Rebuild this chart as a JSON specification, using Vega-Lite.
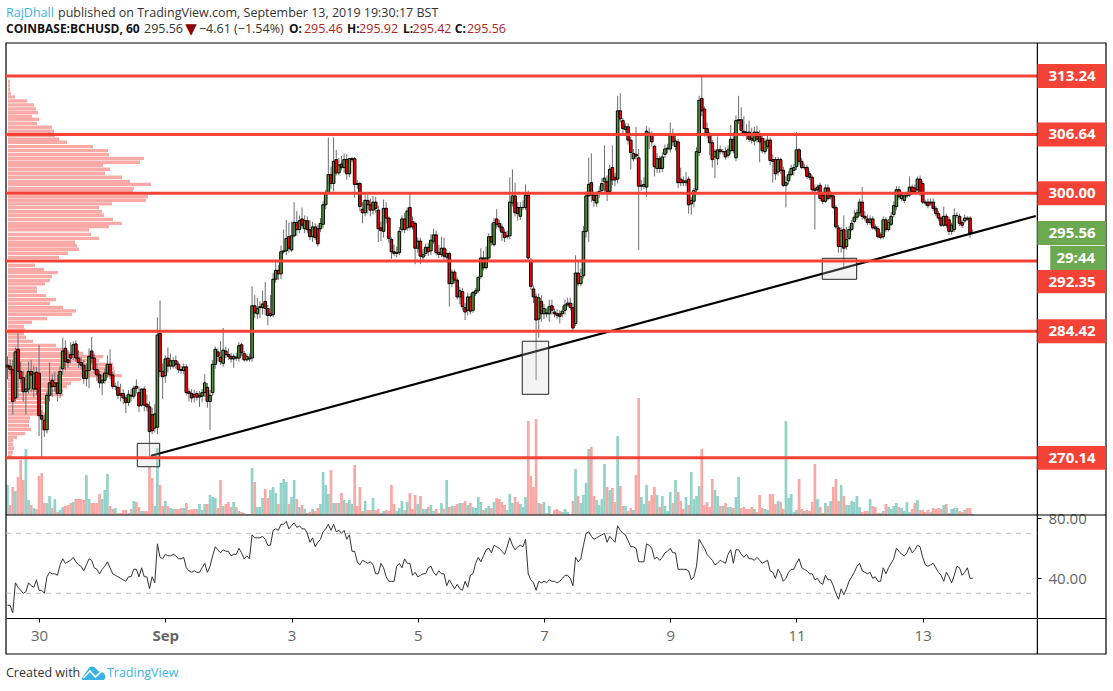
{"$schema":"https://vega.github.io/schema/vega-lite/v6.json","width":1113,"height":691,"autosize":{"type":"none"},"padding":0,"background":"white","config":{"view":{"stroke":null},"font":"Open Sans"},
"datasets":{
"bars":[
{"h":12,"o":280.4,"c":280.6,"hi":281.6,"lo":279,"v":30,"r":22},{"h":13,"o":280.5,"c":280.1,"hi":281.2,"lo":279.6,"v":10,"r":22},{"h":14,"o":280.1,"c":276.5,"hi":281.2,"lo":275,"v":28,"r":17},{"h":15,"o":276.9,"c":282.1,"hi":282.6,"lo":276.5,"v":24,"r":37},{"h":16,"o":282.4,"c":279.9,"hi":284.2,"lo":276.9,"v":38,"r":34},{"h":17,"o":279.9,"c":279.1,"hi":281,"lo":278.6,"v":55,"r":32},{"h":18,"o":279.2,"c":277.6,"hi":280,"lo":276.5,"v":35,"r":30},{"h":19,"o":277.6,"c":277.9,"hi":279.5,"lo":275,"v":66,"r":31},{"h":20,"o":277.9,"c":279.9,"hi":281,"lo":277.4,"v":15,"r":37},{"h":21,"o":279.9,"c":279.5,"hi":281.2,"lo":277.5,"v":10,"r":35},{"h":22,"o":277.9,"c":279.7,"hi":280.5,"lo":277,"v":7,"r":34},{"h":23,"o":279.8,"c":277.9,"hi":280.4,"lo":277.2,"v":6,"r":39},{"h":24,"o":279.7,"c":274.9,"hi":282.9,"lo":272.6,"v":39,"r":32},{"h":25,"o":274.9,"c":274.5,"hi":275.5,"lo":270.2,"v":42,"r":32},{"h":26,"o":274.4,"c":273.3,"hi":275,"lo":272.5,"v":12,"r":30},{"h":27,"o":273.3,"c":277.2,"hi":277.6,"lo":272.9,"v":12,"r":41},{"h":28,"o":277.2,"c":278.6,"hi":280.9,"lo":276.5,"v":19,"r":44},{"h":29,"o":278.9,"c":278.2,"hi":279.6,"lo":277,"v":7,"r":43},{"h":30,"o":278.2,"c":278.6,"hi":279.8,"lo":277.6,"v":16,"r":43},{"h":31,"o":278.6,"c":277.4,"hi":279.5,"lo":276.5,"v":3,"r":42},{"h":32,"o":277.4,"c":279.9,"hi":280.5,"lo":276.9,"v":5,"r":49},{"h":33,"o":280.2,"c":282.2,"hi":283.7,"lo":279.5,"v":8,"r":53},{"h":34,"o":282.5,"c":281,"hi":283.4,"lo":280,"v":9,"r":50},{"h":35,"o":281.2,"c":280.9,"hi":282.3,"lo":280.3,"v":10,"r":51},{"h":36,"o":281.8,"c":281.4,"hi":283.2,"lo":280.8,"v":12,"r":52},{"h":37,"o":281.8,"c":282.9,"hi":283.3,"lo":281.2,"v":13,"r":54},{"h":38,"o":283,"c":281.4,"hi":283.4,"lo":281,"v":16,"r":51},{"h":39,"o":281.4,"c":280.9,"hi":282.3,"lo":280.3,"v":16,"r":49},{"h":40,"o":280.9,"c":280.6,"hi":281.5,"lo":280.1,"v":16,"r":48},{"h":41,"o":280.6,"c":279.1,"hi":281.2,"lo":278.5,"v":15,"r":45},{"h":42,"o":279.1,"c":280,"hi":280.8,"lo":278.2,"v":40,"r":49},{"h":43,"o":280,"c":281.6,"hi":282.5,"lo":278,"v":16,"r":53},{"h":44,"o":282.2,"c":281.4,"hi":283.8,"lo":280.8,"v":12,"r":52},{"h":45,"o":281.4,"c":280.1,"hi":281.9,"lo":279.6,"v":12,"r":47},{"h":46,"o":280.1,"c":279.5,"hi":280.8,"lo":278.8,"v":12,"r":46},{"h":47,"o":279.5,"c":278.6,"hi":280,"lo":278,"v":21,"r":43},{"h":48,"o":278.6,"c":278.9,"hi":279.6,"lo":277.2,"v":16,"r":46},{"h":49,"o":278.9,"c":279.7,"hi":280.2,"lo":278.5,"v":25,"r":48},{"h":50,"o":279.7,"c":280.7,"hi":281.7,"lo":279.2,"v":41,"r":51},{"h":51,"o":280.7,"c":279.5,"hi":282.4,"lo":279,"v":9,"r":47},{"h":52,"o":279.5,"c":278.2,"hi":279.9,"lo":277.9,"v":6,"r":43},{"h":53,"o":278.2,"c":278.2,"hi":278.6,"lo":277.8,"v":7,"r":42},{"h":54,"o":278.1,"c":277.2,"hi":278.8,"lo":276.8,"v":2,"r":41},{"h":55,"o":277.4,"c":277.2,"hi":278.5,"lo":276.5,"v":2,"r":40},{"h":56,"o":277.4,"c":276.9,"hi":277.9,"lo":276.2,"v":5,"r":39},{"h":57,"o":276.9,"c":276.4,"hi":277.2,"lo":275.2,"v":5,"r":38},{"h":58,"o":276.4,"c":277.3,"hi":277.8,"lo":276,"v":2,"r":41},{"h":59,"o":277.2,"c":277.1,"hi":277.9,"lo":276.5,"v":6,"r":41},{"h":60,"o":277.1,"c":278,"hi":278.3,"lo":276.8,"v":14,"r":46},{"h":61,"o":278.2,"c":278,"hi":279,"lo":277.4,"v":13,"r":46},{"h":62,"o":277.5,"c":276,"hi":278.2,"lo":275.3,"v":8,"r":41},{"h":63,"o":276.1,"c":277.9,"hi":278,"lo":275.9,"v":4,"r":47},{"h":64,"o":277.9,"c":276.1,"hi":278.2,"lo":275.4,"v":4,"r":41},{"h":65,"o":276.2,"c":275.9,"hi":277.3,"lo":275.4,"v":4,"r":41},{"h":66,"o":275.9,"c":273.1,"hi":276.5,"lo":270.3,"v":48,"r":33},{"h":67,"o":275,"c":273.2,"hi":275.8,"lo":272.8,"v":37,"r":41},{"h":68,"o":273.5,"c":275.1,"hi":276.2,"lo":273,"v":9,"r":37},{"h":69,"o":273.6,"c":284,"hi":286,"lo":272.8,"v":67,"r":63},{"h":70,"o":284.2,"c":279.9,"hi":287.9,"lo":279.3,"v":30,"r":54},{"h":71,"o":279.9,"c":279.3,"hi":280.8,"lo":276.8,"v":9,"r":53},
{"h":72,"o":279.4,"c":281.3,"hi":281.7,"lo":278.6,"v":14,"r":56},{"h":73,"o":281.4,"c":280.5,"hi":282.6,"lo":279.8,"v":9,"r":55},{"h":74,"o":280.5,"c":281.1,"hi":281.9,"lo":280.1,"v":7,"r":55},{"h":75,"o":280.5,"c":281.1,"hi":281.5,"lo":280.2,"v":6,"r":56},{"h":76,"o":281.1,"c":280.7,"hi":281.7,"lo":280.2,"v":6,"r":55},{"h":77,"o":280.7,"c":280.1,"hi":281,"lo":279.7,"v":6,"r":53},{"h":78,"o":280.1,"c":280,"hi":280.5,"lo":279.6,"v":7,"r":53},{"h":79,"o":280,"c":280.4,"hi":280.8,"lo":279.6,"v":7,"r":54},{"h":80,"o":280.4,"c":277.5,"hi":280.7,"lo":277.2,"v":12,"r":47},{"h":81,"o":277.6,"c":277.4,"hi":278,"lo":276.5,"v":5,"r":45},{"h":82,"o":277.4,"c":276.9,"hi":277.9,"lo":276.4,"v":6,"r":44},{"h":83,"o":277.3,"c":277,"hi":277.8,"lo":276.4,"v":6,"r":45},{"h":84,"o":277.4,"c":277,"hi":277.7,"lo":276.6,"v":6,"r":44},{"h":85,"o":277,"c":277.2,"hi":277.7,"lo":275.9,"v":11,"r":44},{"h":86,"o":277.1,"c":277.5,"hi":277.9,"lo":276.4,"v":5,"r":47},{"h":87,"o":277.5,"c":278.6,"hi":279.6,"lo":277,"v":11,"r":50},{"h":88,"o":278.1,"c":276.5,"hi":278.6,"lo":275.8,"v":11,"r":44},{"h":89,"o":276.5,"c":277.2,"hi":277.8,"lo":273.3,"v":20,"r":48},{"h":90,"o":277.5,"c":280.7,"hi":281.2,"lo":277.1,"v":18,"r":55},{"h":91,"o":280.7,"c":282.4,"hi":282.7,"lo":280.2,"v":17,"r":61},{"h":92,"o":282.1,"c":281.6,"hi":282.5,"lo":281,"v":7,"r":59},{"h":93,"o":281.5,"c":281,"hi":283.3,"lo":280.6,"v":35,"r":57},{"h":94,"o":280.8,"c":282.3,"hi":284.8,"lo":280.4,"v":9,"r":59},{"h":95,"o":282.2,"c":281.8,"hi":282.7,"lo":281.4,"v":11,"r":58},{"h":96,"o":281.8,"c":281.6,"hi":282.5,"lo":281.2,"v":13,"r":58},{"h":97,"o":281.6,"c":281.3,"hi":282,"lo":280.9,"v":8,"r":55},{"h":98,"o":281.3,"c":281.6,"hi":281.9,"lo":280.3,"v":13,"r":56},{"h":99,"o":281.5,"c":281.4,"hi":282,"lo":281.1,"v":8,"r":56},{"h":100,"o":281.4,"c":282.8,"hi":283.2,"lo":281,"v":4,"r":60},{"h":101,"o":282.9,"c":282,"hi":283.1,"lo":281.6,"v":3,"r":57},{"h":102,"o":281.9,"c":281.2,"hi":282.2,"lo":281,"v":2,"r":53},{"h":103,"o":281.2,"c":281.6,"hi":281.9,"lo":281,"v":1,"r":55},{"h":104,"o":281.3,"c":281.4,"hi":281.9,"lo":281,"v":1,"r":53},{"h":105,"o":281.4,"c":287.3,"hi":289.5,"lo":281,"v":47,"r":69},{"h":106,"o":287.3,"c":286.5,"hi":288.5,"lo":285.9,"v":33,"r":67},{"h":107,"o":286.4,"c":287,"hi":288.2,"lo":285.8,"v":8,"r":67},{"h":108,"o":287.1,"c":287.2,"hi":287.8,"lo":285.9,"v":8,"r":67},{"h":109,"o":287.1,"c":287.5,"hi":289,"lo":286.3,"v":17,"r":68},{"h":110,"o":287.8,"c":287,"hi":290,"lo":286.2,"v":26,"r":66},{"h":111,"o":287,"c":286.2,"hi":287.4,"lo":285.1,"v":17,"r":62},{"h":112,"o":286.2,"c":286.4,"hi":288.5,"lo":286,"v":25,"r":62},{"h":113,"o":286.3,"c":290.3,"hi":291,"lo":286,"v":28,"r":72},{"h":114,"o":290.3,"c":291.3,"hi":292.5,"lo":289.9,"v":22,"r":73},{"h":115,"o":291.3,"c":290.9,"hi":291.9,"lo":290.2,"v":11,"r":72},{"h":116,"o":290.9,"c":293.4,"hi":294.1,"lo":290.3,"v":32,"r":76},{"h":117,"o":293.4,"c":293.5,"hi":295.9,"lo":293.2,"v":36,"r":76},{"h":118,"o":293.5,"c":294.9,"hi":297,"lo":293,"v":33,"r":78},{"h":119,"o":295.1,"c":293.8,"hi":296.7,"lo":293.3,"v":11,"r":73},{"h":120,"o":293.6,"c":295.2,"hi":296.8,"lo":293.4,"v":18,"r":75},
{"h":121,"o":295.2,"c":296.7,"hi":299,"lo":295,"v":35,"r":77},{"h":122,"o":296.7,"c":295.9,"hi":298,"lo":295.2,"v":16,"r":74},{"h":123,"o":295.9,"c":296.9,"hi":297.5,"lo":295.5,"v":8,"r":75},{"h":124,"o":297.1,"c":296.4,"hi":298.4,"lo":296,"v":10,"r":73},{"h":125,"o":296,"c":296.9,"hi":297.5,"lo":295.5,"v":6,"r":73},{"h":126,"o":296.9,"c":295.9,"hi":297.4,"lo":295.5,"v":2,"r":70},{"h":127,"o":295.9,"c":295.1,"hi":297,"lo":294.7,"v":3,"r":64},{"h":128,"o":295.1,"c":296.2,"hi":296.8,"lo":294.5,"v":6,"r":67},{"h":129,"o":296.2,"c":295,"hi":296.6,"lo":294.7,"v":4,"r":61},{"h":130,"o":296,"c":294.3,"hi":296.4,"lo":294,"v":7,"r":64},{"h":131,"o":296,"c":296.6,"hi":297.2,"lo":295.6,"v":11,"r":66},{"h":132,"o":296.5,"c":298.7,"hi":299.1,"lo":296.1,"v":43,"r":71},{"h":133,"o":298.7,"c":300,"hi":300.4,"lo":298.2,"v":30,"r":73},{"h":134,"o":300.1,"c":302.1,"hi":306.3,"lo":299.9,"v":21,"r":76},{"h":135,"o":302.1,"c":301.1,"hi":303,"lo":300.5,"v":45,"r":72},{"h":136,"o":301.1,"c":303.6,"hi":306.3,"lo":300.2,"v":12,"r":76},{"h":137,"o":303.8,"c":302.3,"hi":304.9,"lo":302,"v":12,"r":71},{"h":138,"o":302.3,"c":303.2,"hi":304,"lo":302,"v":12,"r":72},{"h":139,"o":303.3,"c":302.9,"hi":304.2,"lo":302.6,"v":22,"r":70},{"h":140,"o":302.9,"c":303.8,"hi":304.5,"lo":302.3,"v":15,"r":72},{"h":141,"o":303.8,"c":302.2,"hi":304.4,"lo":301.5,"v":12,"r":66},{"h":142,"o":302.2,"c":303.9,"hi":304,"lo":301.8,"v":15,"r":69},{"h":143,"o":303.8,"c":303.9,"hi":304.1,"lo":303.5,"v":11,"r":58},
{"h":144,"o":303.9,"c":301,"hi":304.1,"lo":299.5,"v":50,"r":58},{"h":145,"o":301.1,"c":301,"hi":301.5,"lo":300.5,"v":9,"r":51},{"h":146,"o":301.1,"c":298.5,"hi":301.3,"lo":298,"v":28,"r":49},{"h":147,"o":298.2,"c":297.8,"hi":299,"lo":296.6,"v":4,"r":52},{"h":148,"o":297.8,"c":299.2,"hi":300,"lo":297.4,"v":14,"r":51},{"h":149,"o":299.2,"c":298.7,"hi":299.8,"lo":297.7,"v":5,"r":50},{"h":150,"o":298.7,"c":298.1,"hi":299.4,"lo":297.4,"v":5,"r":51},{"h":151,"o":298.1,"c":299,"hi":299.7,"lo":297.6,"v":17,"r":49},{"h":152,"o":299,"c":298.3,"hi":299.6,"lo":297.8,"v":5,"r":43},{"h":153,"o":298.1,"c":296,"hi":298.6,"lo":294.5,"v":6,"r":43},{"h":154,"o":296.1,"c":295.8,"hi":296.8,"lo":294.6,"v":2,"r":50},{"h":155,"o":295.7,"c":298.3,"hi":299.3,"lo":295,"v":4,"r":47},{"h":156,"o":298.3,"c":297.2,"hi":299,"lo":296.6,"v":5,"r":41},{"h":157,"o":297.2,"c":294.9,"hi":297.4,"lo":294.4,"v":4,"r":38},{"h":158,"o":294.8,"c":293.4,"hi":295,"lo":292.6,"v":30,"r":38},{"h":159,"o":293.4,"c":293.2,"hi":294.2,"lo":292.9,"v":11,"r":38},{"h":160,"o":293.2,"c":293.3,"hi":294,"lo":292.8,"v":4,"r":48},{"h":161,"o":293.3,"c":295.7,"hi":296.2,"lo":293,"v":7,"r":50},{"h":162,"o":295.9,"c":297.1,"hi":297.5,"lo":295.6,"v":14,"r":47},{"h":163,"o":297.1,"c":295.9,"hi":297.8,"lo":295.5,"v":5,"r":53},{"h":164,"o":296.1,"c":298,"hi":298.4,"lo":295.8,"v":13,"r":50},{"h":165,"o":298.4,"c":296.2,"hi":300,"lo":295.9,"v":22,"r":50},{"h":166,"o":296.8,"c":296.2,"hi":297.4,"lo":295.9,"v":6,"r":42},{"h":167,"o":296.6,"c":293.8,"hi":296.8,"lo":292,"v":20,"r":44},{"h":168,"o":293.8,"c":294.6,"hi":295,"lo":293.3,"v":11,"r":41},{"h":169,"o":294.6,"c":292.9,"hi":295,"lo":292,"v":19,"r":42},{"h":170,"o":292.8,"c":293.1,"hi":293.7,"lo":292.3,"v":6,"r":43},{"h":171,"o":293.2,"c":293.9,"hi":294.3,"lo":292.9,"v":6,"r":43},{"h":172,"o":293.9,"c":293.4,"hi":294.4,"lo":292.9,"v":8,"r":47},{"h":173,"o":293.5,"c":294.7,"hi":295.4,"lo":293,"v":10,"r":48},{"h":174,"o":294.6,"c":295.3,"hi":296,"lo":294.3,"v":4,"r":44},{"h":175,"o":295.3,"c":293.3,"hi":295.8,"lo":293,"v":6,"r":42},{"h":176,"o":293.3,"c":293.1,"hi":294.2,"lo":292.7,"v":2,"r":45},{"h":177,"o":293.1,"c":293.8,"hi":295.1,"lo":292.8,"v":12,"r":43},{"h":178,"o":293.8,"c":292.9,"hi":295,"lo":292.5,"v":6,"r":43},{"h":179,"o":292.8,"c":293.2,"hi":293.7,"lo":292.2,"v":35,"r":35},{"h":180,"o":293.2,"c":289.8,"hi":293.4,"lo":287.2,"v":8,"r":39},{"h":181,"o":289.8,"c":291.1,"hi":291.4,"lo":289.4,"v":9,"r":36},{"h":182,"o":291.1,"c":290.2,"hi":291.4,"lo":289.8,"v":9,"r":33},{"h":183,"o":290.2,"c":288.3,"hi":290.5,"lo":288,"v":11,"r":36},{"h":184,"o":288.3,"c":289,"hi":289.4,"lo":287.5,"v":12,"r":33},{"h":185,"o":288.9,"c":287.2,"hi":289.3,"lo":286.8,"v":12,"r":32},{"h":186,"o":287.1,"c":286.6,"hi":287.6,"lo":285.7,"v":14,"r":38},{"h":187,"o":286.8,"c":288.3,"hi":288.8,"lo":286.2,"v":10,"r":34},{"h":188,"o":288.3,"c":286.7,"hi":288.7,"lo":286.3,"v":12,"r":42},{"h":189,"o":286.8,"c":288.8,"hi":289,"lo":286.5,"v":8,"r":43},{"h":190,"o":288.7,"c":289,"hi":289.3,"lo":288.4,"v":7,"r":50},{"h":191,"o":289,"c":290.5,"hi":290.7,"lo":288.7,"v":18,"r":54},{"h":192,"o":290.6,"c":292.7,"hi":293.8,"lo":290.3,"v":13,"r":51},{"h":193,"o":292.7,"c":291.6,"hi":293.5,"lo":291.3,"v":5,"r":55},{"h":194,"o":291.6,"c":292.7,"hi":294,"lo":291.4,"v":7,"r":59},{"h":195,"o":292.7,"c":295.1,"hi":295.5,"lo":292.4,"v":9,"r":60},{"h":196,"o":295.1,"c":294.5,"hi":296.6,"lo":294.1,"v":7,"r":57},{"h":197,"o":294.2,"c":296.7,"hi":297.2,"lo":294,"v":13,"r":62},{"h":198,"o":297.1,"c":296.5,"hi":298.2,"lo":296,"v":17,"r":61},{"h":199,"o":296.6,"c":296.2,"hi":297,"lo":295.8,"v":16,"r":60},{"h":200,"o":296.2,"c":295.6,"hi":296.6,"lo":294.6,"v":13,"r":58},{"h":201,"o":295.6,"c":295,"hi":296,"lo":294.5,"v":10,"r":56},{"h":202,"o":295.1,"c":295.2,"hi":295.8,"lo":294.8,"v":5,"r":61},{"h":203,"o":295.2,"c":299,"hi":301.8,"lo":294.8,"v":21,"r":67},{"h":204,"o":298.9,"c":299.7,"hi":302.7,"lo":298.5,"v":12,"r":62},{"h":205,"o":299.7,"c":297.8,"hi":301.2,"lo":297.4,"v":18,"r":59},{"h":206,"o":298.4,"c":297.7,"hi":299,"lo":296.9,"v":13,"r":61},{"h":207,"o":297.4,"c":298.4,"hi":299,"lo":297,"v":11,"r":62},{"h":208,"o":298.4,"c":298.4,"hi":299.2,"lo":298.1,"v":8,"r":61},{"h":209,"o":298.4,"c":299.8,"hi":301,"lo":298.1,"v":18,"r":66},{"h":210,"o":299.8,"c":292.7,"hi":300.3,"lo":292.4,"v":94,"r":43},{"h":211,"o":292.4,"c":289.5,"hi":292.7,"lo":289.1,"v":39,"r":39},{"h":212,"o":289.2,"c":288.3,"hi":289.6,"lo":287.6,"v":28,"r":37},{"h":213,"o":288.3,"c":285.7,"hi":288.7,"lo":278.9,"v":96,"r":32},{"h":214,"o":285.8,"c":288.2,"hi":288.7,"lo":283.7,"v":12,"r":38},{"h":215,"o":287.8,"c":286.4,"hi":288.5,"lo":285.5,"v":11,"r":37},{"h":216,"o":286.4,"c":287,"hi":287.5,"lo":285.8,"v":13,"r":38},{"h":217,"o":286.5,"c":286.4,"hi":287,"lo":286,"v":2,"r":37},{"h":218,"o":286.4,"c":287.2,"hi":288,"lo":285.5,"v":9,"r":39},{"h":219,"o":287.3,"c":286.8,"hi":288,"lo":286.3,"v":1,"r":38},{"h":220,"o":286.6,"c":286.4,"hi":287,"lo":286,"v":5,"r":38},{"h":221,"o":286.4,"c":286.2,"hi":286.9,"lo":285.8,"v":6,"r":37},{"h":222,"o":286.4,"c":286.1,"hi":286.8,"lo":285.3,"v":4,"r":38},{"h":223,"o":286.4,"c":286.7,"hi":287.3,"lo":286,"v":3,"r":40},{"h":224,"o":286.8,"c":287.4,"hi":288,"lo":286.3,"v":6,"r":42},{"h":225,"o":287.4,"c":287.6,"hi":288.2,"lo":287.2,"v":3,"r":42},{"h":226,"o":287.6,"c":287.1,"hi":288.2,"lo":286.8,"v":1,"r":40},{"h":227,"o":287.1,"c":284.8,"hi":287.6,"lo":284.4,"v":14,"r":35},{"h":228,"o":285.3,"c":291,"hi":293,"lo":285,"v":46,"r":54},{"h":229,"o":291,"c":289.8,"hi":292.3,"lo":289.5,"v":19,"r":51},{"h":230,"o":289.8,"c":290.6,"hi":291.5,"lo":289.5,"v":12,"r":53},{"h":231,"o":290.7,"c":295.7,"hi":296.3,"lo":290.4,"v":20,"r":62},
{"h":232,"o":295.7,"c":299.7,"hi":300.2,"lo":295,"v":32,"r":70},{"h":233,"o":299.7,"c":301,"hi":304,"lo":294.5,"v":66,"r":71},{"h":234,"o":301.2,"c":299.8,"hi":304.5,"lo":299,"v":68,"r":68},{"h":235,"o":299.8,"c":299.2,"hi":300.1,"lo":298.5,"v":19,"r":66},{"h":236,"o":298.9,"c":299.8,"hi":300.2,"lo":298.5,"v":15,"r":67},{"h":237,"o":300,"c":300.2,"hi":300.8,"lo":299.5,"v":10,"r":68},{"h":238,"o":300.3,"c":301.1,"hi":301.7,"lo":299.8,"v":16,"r":69},{"h":239,"o":301.3,"c":301.7,"hi":305.4,"lo":300.2,"v":51,"r":70},{"h":240,"o":301.3,"c":300.2,"hi":302,"lo":299.1,"v":28,"r":64},{"h":241,"o":300.2,"c":302.7,"hi":303.2,"lo":299.8,"v":25,"r":68},{"h":242,"o":302.9,"c":301.5,"hi":305.4,"lo":300.9,"v":27,"r":66},{"h":243,"o":301.8,"c":301.5,"hi":302.3,"lo":300.8,"v":13,"r":64},{"h":244,"o":301.6,"c":309.3,"hi":311,"lo":301.1,"v":79,"r":75},{"h":245,"o":309.3,"c":308.4,"hi":311.3,"lo":308,"v":29,"r":72},{"h":246,"o":308.2,"c":307.3,"hi":308.5,"lo":306.8,"v":9,"r":70},{"h":247,"o":307.2,"c":307.5,"hi":307.9,"lo":306.7,"v":9,"r":69},{"h":248,"o":307.5,"c":306,"hi":307.9,"lo":305.5,"v":4,"r":65},{"h":249,"o":306,"c":304.6,"hi":306.4,"lo":302.7,"v":7,"r":61},{"h":250,"o":303.9,"c":304.5,"hi":305,"lo":303.6,"v":5,"r":61},{"h":251,"o":304.4,"c":304.2,"hi":307.5,"lo":303.8,"v":40,"r":60},{"h":252,"o":304,"c":300.8,"hi":305,"lo":293.6,"v":117,"r":51},{"h":253,"o":300.8,"c":300.9,"hi":301.5,"lo":300.3,"v":18,"r":51},{"h":254,"o":300.8,"c":301,"hi":301.8,"lo":300.5,"v":11,"r":51},{"h":255,"o":300.7,"c":307,"hi":307.6,"lo":299.6,"v":30,"r":63},{"h":256,"o":306.8,"c":306.5,"hi":307.4,"lo":305,"v":14,"r":62},{"h":257,"o":306.6,"c":305.8,"hi":307,"lo":305.3,"v":20,"r":60},{"h":258,"o":305.3,"c":303,"hi":305.5,"lo":301.9,"v":28,"r":53},{"h":259,"o":302.8,"c":303.9,"hi":304.5,"lo":302.3,"v":20,"r":54},{"h":260,"o":303.9,"c":302.8,"hi":304.2,"lo":302.3,"v":8,"r":52},{"h":261,"o":302.8,"c":304.1,"hi":304.6,"lo":302.4,"v":19,"r":54},{"h":262,"o":304.4,"c":305,"hi":305.5,"lo":304,"v":9,"r":57},{"h":263,"o":305,"c":305.1,"hi":305.6,"lo":304.5,"v":4,"r":58},{"h":264,"o":305,"c":306.6,"hi":308,"lo":304.6,"v":23,"r":60},{"h":265,"o":306.6,"c":305.8,"hi":307.3,"lo":305.3,"v":12,"r":57},{"h":266,"o":305.3,"c":305.9,"hi":306.7,"lo":304.8,"v":35,"r":57},{"h":267,"o":305.8,"c":301.2,"hi":306.1,"lo":300.6,"v":23,"r":46},{"h":268,"o":301.6,"c":301.2,"hi":302.9,"lo":300.8,"v":14,"r":46},{"h":269,"o":301.4,"c":301.2,"hi":301.9,"lo":300.8,"v":6,"r":46},{"h":270,"o":301.2,"c":301.4,"hi":302.4,"lo":300.8,"v":18,"r":46},{"h":271,"o":301.6,"c":298.7,"hi":301.9,"lo":297.7,"v":10,"r":45},{"h":272,"o":298.8,"c":299.2,"hi":299.6,"lo":297.6,"v":43,"r":39},{"h":273,"o":299.1,"c":300.3,"hi":300.6,"lo":298.4,"v":16,"r":41},{"h":274,"o":300.4,"c":304.7,"hi":305.2,"lo":300.1,"v":19,"r":48},{"h":275,"o":304.6,"c":310.5,"hi":311,"lo":304.2,"v":29,"r":66},{"h":276,"o":310.7,"c":309.3,"hi":313.2,"lo":308.7,"v":66,"r":63},{"h":277,"o":309.5,"c":307.3,"hi":309.8,"lo":306.4,"v":10,"r":60},{"h":278,"o":307.3,"c":306.8,"hi":308,"lo":306.2,"v":13,"r":56},{"h":279,"o":306.6,"c":305.7,"hi":306.9,"lo":304.3,"v":8,"r":54},{"h":280,"o":305.7,"c":303.8,"hi":306,"lo":302.9,"v":36,"r":52},{"h":281,"o":304.1,"c":304.7,"hi":305,"lo":301.7,"v":25,"r":49},{"h":282,"o":303.9,"c":304.9,"hi":306.4,"lo":303.2,"v":19,"r":50},{"h":283,"o":304.9,"c":304.7,"hi":305.4,"lo":304.4,"v":9,"r":52},{"h":284,"o":304.7,"c":304.7,"hi":305,"lo":304.4,"v":9,"r":51},{"h":285,"o":304.7,"c":304.1,"hi":305.2,"lo":303.8,"v":12,"r":50},{"h":286,"o":304.3,"c":304.9,"hi":305.4,"lo":304,"v":8,"r":56},{"h":287,"o":304.8,"c":306.1,"hi":307.7,"lo":304.4,"v":8,"r":59},{"h":288,"o":306.1,"c":304.8,"hi":306.9,"lo":304.5,"v":7,"r":50},{"h":289,"o":304,"c":308.2,"hi":308.8,"lo":303.6,"v":18,"r":59},{"h":290,"o":308.2,"c":308.3,"hi":311,"lo":307.8,"v":38,"r":59},{"h":291,"o":308.3,"c":307.1,"hi":309.7,"lo":306.8,"v":7,"r":56},{"h":292,"o":307,"c":306.8,"hi":308.7,"lo":306.4,"v":8,"r":54},{"h":293,"o":306.9,"c":306.8,"hi":307.8,"lo":306,"v":6,"r":56},{"h":294,"o":306.9,"c":306.1,"hi":308.2,"lo":305.8,"v":6,"r":53},{"h":295,"o":306.2,"c":306,"hi":307.4,"lo":305.6,"v":8,"r":53},{"h":296,"o":305.9,"c":306.9,"hi":307.5,"lo":305.4,"v":6,"r":52},{"h":297,"o":306.9,"c":306.1,"hi":307.6,"lo":305.7,"v":3,"r":54},{"h":298,"o":306.6,"c":305.8,"hi":307.1,"lo":303.5,"v":20,"r":52},{"h":299,"o":306.2,"c":304.8,"hi":306.6,"lo":304.5,"v":7,"r":50},{"h":300,"o":304.7,"c":305.8,"hi":306.2,"lo":304.4,"v":6,"r":51},
{"h":301,"o":305.3,"c":306,"hi":306.6,"lo":305,"v":5,"r":52},{"h":302,"o":306,"c":303.7,"hi":306.3,"lo":303.2,"v":21,"r":45},{"h":303,"o":303.8,"c":303.6,"hi":304.4,"lo":301.2,"v":21,"r":44},{"h":304,"o":303.8,"c":302.2,"hi":304.1,"lo":301.5,"v":11,"r":40},{"h":305,"o":302.4,"c":303.8,"hi":304.1,"lo":302,"v":14,"r":46},{"h":306,"o":303.8,"c":302.6,"hi":304,"lo":302.2,"v":13,"r":43},{"h":307,"o":302.6,"c":300.9,"hi":303,"lo":300.7,"v":6,"r":38},{"h":308,"o":300.9,"c":301.2,"hi":301.9,"lo":298.4,"v":94,"r":40},{"h":309,"o":301.4,"c":302.1,"hi":302.5,"lo":301,"v":17,"r":44},{"h":310,"o":302.1,"c":302.8,"hi":303.2,"lo":301.9,"v":21,"r":46},{"h":311,"o":302.6,"c":302.9,"hi":303.3,"lo":302,"v":3,"r":46},{"h":312,"o":303,"c":304.9,"hi":306.9,"lo":302.6,"v":5,"r":50},{"h":313,"o":304.9,"c":303.6,"hi":305.1,"lo":303.2,"v":36,"r":53},{"h":314,"o":303.6,"c":302.9,"hi":304,"lo":302.7,"v":6,"r":47},{"h":315,"o":302.9,"c":302.9,"hi":303.3,"lo":302.6,"v":4,"r":46},{"h":316,"o":302.9,"c":301.9,"hi":303.2,"lo":301.6,"v":5,"r":45},{"h":317,"o":302.2,"c":301.8,"hi":302.5,"lo":301.5,"v":4,"r":43},{"h":318,"o":301.8,"c":300.4,"hi":302,"lo":300,"v":13,"r":43},{"h":319,"o":300.5,"c":300.3,"hi":301,"lo":295.9,"v":51,"r":39},{"h":320,"o":300.4,"c":300.7,"hi":301,"lo":300,"v":16,"r":40},{"h":321,"o":300.9,"c":299.4,"hi":301.2,"lo":299.1,"v":8,"r":37},{"h":322,"o":299.8,"c":299.1,"hi":300.2,"lo":298.8,"v":2,"r":36},{"h":323,"o":299.1,"c":300.6,"hi":301,"lo":298.9,"v":12,"r":42},{"h":324,"o":300.6,"c":299.4,"hi":301,"lo":299.2,"v":9,"r":39},{"h":325,"o":299.6,"c":299.8,"hi":300.3,"lo":299.3,"v":14,"r":39},{"h":326,"o":299.7,"c":298.4,"hi":300,"lo":298.2,"v":28,"r":35},{"h":327,"o":298.4,"c":296.2,"hi":298.7,"lo":296,"v":36,"r":30},{"h":328,"o":296.1,"c":294,"hi":296.4,"lo":293.3,"v":14,"r":26},{"h":329,"o":294,"c":295.8,"hi":296.2,"lo":293.3,"v":30,"r":33},{"h":330,"o":295.9,"c":293.8,"hi":297.5,"lo":291.5,"v":19,"r":29},{"h":331,"o":294,"c":294.8,"hi":296.2,"lo":293.6,"v":10,"r":33},{"h":332,"o":294.9,"c":295.9,"hi":296.3,"lo":294.7,"v":10,"r":38},{"h":333,"o":295.9,"c":296.6,"hi":297,"lo":295.7,"v":14,"r":41},{"h":334,"o":296.8,"c":297.3,"hi":298.1,"lo":296.6,"v":13,"r":44},{"h":335,"o":297.3,"c":297.8,"hi":298.2,"lo":297,"v":19,"r":48},{"h":336,"o":297.8,"c":299,"hi":299.4,"lo":297.4,"v":8,"r":50},{"h":337,"o":299,"c":297.4,"hi":300.7,"lo":297,"v":3,"r":45},{"h":338,"o":297.4,"c":297.2,"hi":298,"lo":296.9,"v":4,"r":44},{"h":339,"o":297.1,"c":296.7,"hi":297.6,"lo":296.4,"v":4,"r":43},{"h":340,"o":296.7,"c":297.1,"hi":297.5,"lo":296.4,"v":16,"r":44},{"h":341,"o":297.1,"c":296.1,"hi":297.4,"lo":295.9,"v":9,"r":40},{"h":342,"o":296.2,"c":296,"hi":296.5,"lo":295.7,"v":8,"r":41},{"h":343,"o":296,"c":295.1,"hi":296.3,"lo":294.9,"v":2,"r":38},{"h":344,"o":295.3,"c":295,"hi":295.6,"lo":294.8,"v":2,"r":38},{"h":345,"o":295.1,"c":297,"hi":297.4,"lo":294.8,"v":4,"r":47},{"h":346,"o":297,"c":295.9,"hi":297.3,"lo":295.6,"v":11,"r":43},{"h":347,"o":295.9,"c":296.7,"hi":297.1,"lo":295.7,"v":8,"r":47},{"h":348,"o":296.5,"c":297.4,"hi":297.9,"lo":296.3,"v":6,"r":50},{"h":349,"o":297.6,"c":298.6,"hi":299.1,"lo":297.3,"v":9,"r":53},{"h":350,"o":298.5,"c":300.4,"hi":300.8,"lo":298.1,"v":12,"r":60},{"h":351,"o":300.4,"c":299.6,"hi":300.8,"lo":299.3,"v":8,"r":58},{"h":352,"o":299.4,"c":299.8,"hi":300.2,"lo":299.1,"v":7,"r":56},{"h":353,"o":299.2,"c":299.7,"hi":300,"lo":298.9,"v":4,"r":55},{"h":354,"o":299.7,"c":299.8,"hi":300.2,"lo":299.5,"v":13,"r":57},{"h":355,"o":299.8,"c":300.7,"hi":301.9,"lo":299.6,"v":3,"r":61},{"h":356,"o":300.7,"c":300.2,"hi":301,"lo":299.8,"v":6,"r":57},{"h":357,"o":300.6,"c":300.2,"hi":301,"lo":299.9,"v":12,"r":59},{"h":358,"o":300.4,"c":301.6,"hi":301.9,"lo":300.2,"v":15,"r":62},{"h":359,"o":301.6,"c":300,"hi":302,"lo":299.7,"v":5,"r":61},{"h":360,"o":301.1,"c":299,"hi":301.4,"lo":298.8,"v":5,"r":54},{"h":361,"o":299,"c":298.9,"hi":299.3,"lo":298.6,"v":3,"r":49},{"h":362,"o":299,"c":298.6,"hi":299.4,"lo":298.3,"v":5,"r":48},{"h":363,"o":298.9,"c":299,"hi":299.4,"lo":298.6,"v":3,"r":49},{"h":364,"o":299,"c":298.3,"hi":299.4,"lo":298,"v":7,"r":50},{"h":365,"o":298.3,"c":297.7,"hi":298.6,"lo":297.4,"v":6,"r":47},{"h":366,"o":297.7,"c":297.2,"hi":298,"lo":296.9,"v":7,"r":44},{"h":367,"o":297.2,"c":296.4,"hi":297.4,"lo":296.2,"v":6,"r":42},{"h":368,"o":296.4,"c":297.4,"hi":298.5,"lo":296.2,"v":10,"r":38},{"h":369,"o":297.4,"c":296.4,"hi":297.7,"lo":296.1,"v":11,"r":44},{"h":370,"o":297,"c":295.7,"hi":297.3,"lo":295.3,"v":2,"r":41},{"h":371,"o":295.7,"c":296.4,"hi":296.7,"lo":295.3,"v":6,"r":37},{"h":372,"o":295.9,"c":297.5,"hi":298.3,"lo":295.6,"v":7,"r":42},{"h":373,"o":297.5,"c":297.5,"hi":297.9,"lo":297.2,"v":7,"r":48},{"h":374,"o":297.4,"c":296.6,"hi":297.7,"lo":296.3,"v":4,"r":47},{"h":375,"o":296.7,"c":296.4,"hi":297,"lo":296.1,"v":3,"r":42},{"h":376,"o":296.9,"c":297.2,"hi":297.6,"lo":296.6,"v":5,"r":44},{"h":377,"o":297.2,"c":297.1,"hi":297.4,"lo":296.9,"v":7,"r":47},{"h":378,"o":297.2,"c":295.5,"hi":297.4,"lo":295,"v":7,"r":40},{"h":379,"o":295.46,"c":295.56,"hi":295.92,"lo":295.42,"v":1,"r":40}
],
"vp":[{"p":312.64,"len":2},{"p":312.19,"len":2},{"p":311.74,"len":2},{"p":311.29,"len":3},{"p":310.87,"len":7},{"p":310.42,"len":19},{"p":309.97,"len":26},{"p":309.52,"len":28},{"p":309.1,"len":30},{"p":308.69,"len":24},{"p":308.35,"len":31},{"p":307.9,"len":29},{"p":307.45,"len":44},{"p":307,"len":46},{"p":306.55,"len":47},{"p":306.1,"len":51},{"p":305.76,"len":59},{"p":305.27,"len":85},{"p":304.81,"len":100},{"p":304.36,"len":101},{"p":303.95,"len":136},{"p":303.5,"len":132},{"p":303.16,"len":95},{"p":302.71,"len":102},{"p":302.26,"len":97},{"p":301.81,"len":114},{"p":301.35,"len":122},{"p":301.01,"len":143},{"p":300.56,"len":126},{"p":300.22,"len":125},{"p":299.62,"len":140},{"p":299.21,"len":138},{"p":298.8,"len":104},{"p":298.38,"len":91},{"p":297.93,"len":94},{"p":297.52,"len":96},{"p":297.06,"len":105},{"p":296.61,"len":114},{"p":296.24,"len":101},{"p":295.86,"len":81},{"p":295.37,"len":83},{"p":294.92,"len":91},{"p":294.47,"len":67},{"p":294.09,"len":69},{"p":293.68,"len":71},{"p":293.23,"len":60},{"p":292.77,"len":51},{"p":291.87,"len":27},{"p":291.42,"len":36},{"p":291.04,"len":50},{"p":290.59,"len":44},{"p":290.14,"len":42},{"p":289.77,"len":37},{"p":289.31,"len":29},{"p":288.9,"len":29},{"p":288.45,"len":38},{"p":288,"len":48},{"p":287.58,"len":42},{"p":287.13,"len":55},{"p":286.72,"len":68},{"p":286.34,"len":64},{"p":285.85,"len":39},{"p":285.44,"len":24},{"p":284.99,"len":16},{"p":284.57,"len":17},{"p":284.16,"len":16},{"p":283.75,"len":18},{"p":283.3,"len":25},{"p":282.84,"len":48},{"p":282.39,"len":57},{"p":281.94,"len":75},{"p":281.56,"len":95},{"p":281.11,"len":91},{"p":280.7,"len":105},{"p":280.25,"len":106},{"p":279.8,"len":107},{"p":279.42,"len":114},{"p":278.97,"len":73},{"p":278.55,"len":63},{"p":278.18,"len":59},{"p":277.73,"len":55},{"p":277.27,"len":55},{"p":276.86,"len":42},{"p":276.41,"len":39},{"p":275.92,"len":35},{"p":275.5,"len":35},{"p":275.09,"len":37},{"p":274.64,"len":22},{"p":274.23,"len":21},{"p":273.78,"len":21},{"p":273.36,"len":23},{"p":272.87,"len":17},{"p":272.46,"len":9},{"p":272.08,"len":5},{"p":271.63,"len":5},{"p":271.22,"len":6},{"p":270.77,"len":5},{"p":270.35,"len":4}],
"levels":[{"h":11.43,"h2":403.6,"p":313.24},{"h":11.43,"h2":403.6,"p":306.64},{"h":11.43,"h2":403.6,"p":300},{"h":11.43,"h2":403.6,"p":292.35},{"h":11.43,"h2":403.6,"p":284.42},{"h":11.43,"h2":403.6,"p":270.14}],
"trend":[{"h":66.56,"p":270.38},{"h":403,"p":297.44}],
"boxes":[{"h":61.35,"h2":69.87,"p":271.78,"p2":269.14},{"h":207.74,"h2":217.78,"p":283.3,"p2":277.31},{"h":321.8,"h2":334.9,"p":292.66,"p2":290.29}],
"frame":[{"h":11.43,"h2":429.7,"p":316.96,"p2":248}],
"hlines":[{"h":11.43,"h2":429.7,"p":263.69}],
"vlines":[{"h":403.6,"p":316.96,"p2":248}],
"tags":[{"h":403.6,"h2":429.7,"p":314.59,"p2":311.89,"tx":416.8,"mid":313.24,"label":"313.24","kind":"level"},{"h":403.6,"h2":429.7,"p":307.99,"p2":305.29,"tx":416.8,"mid":306.64,"label":"306.64","kind":"level"},{"h":403.6,"h2":429.7,"p":301.35,"p2":298.65,"tx":416.8,"mid":300,"label":"300.00","kind":"level"},{"h":403.6,"h2":429.7,"p":296.88,"p2":294.17,"tx":416.8,"mid":295.52,"label":"295.56","kind":"last"},{"h":408.5,"h2":429.7,"p":294.09,"p2":291.34,"tx":418.2,"mid":292.72,"label":"29:44","kind":"last"},{"h":403.6,"h2":429.7,"p":291.34,"p2":288.71,"tx":416.8,"mid":290.03,"label":"292.35","kind":"level"},{"h":403.6,"h2":429.7,"p":285.77,"p2":283.07,"tx":416.8,"mid":284.42,"label":"284.42","kind":"level"},{"h":403.6,"h2":429.7,"p":271.49,"p2":268.79,"tx":416.8,"mid":270.14,"label":"270.14","kind":"level"}],
"rsibands":[{"h":11.43,"h2":403.6,"r":70},{"h":11.43,"h2":403.6,"r":30}],
"notes":[{"h":11.43,"p":320.35,"text":"RajDhall","kind":"accent"},{"h":31.2,"p":320.35,"text":"published on TradingView.com, September 13, 2019 19:30:17 BST","kind":"plain"},{"h":11.43,"p":318.54,"text":"COINBASE:BCHUSD, 60","kind":"strong"},{"h":63.9,"p":318.54,"text":"295.56","kind":"plain"},{"h":84.8,"p":318.54,"text":"−4.61 (−1.54%)","kind":"plain"},{"h":119,"p":318.54,"text":"O:","kind":"strong"},{"h":124.7,"p":318.54,"text":"295.46","kind":"value"},{"h":141.1,"p":318.54,"text":"H:","kind":"strong"},{"h":145.7,"p":318.54,"text":"295.92","kind":"value"},{"h":162.4,"p":318.54,"text":"L:","kind":"strong"},{"h":166,"p":318.54,"text":"295.42","kind":"value"},{"h":182.1,"p":318.54,"text":"C:","kind":"strong"},{"h":186.7,"p":318.54,"text":"295.56","kind":"value"},{"h":11.43,"p":245.86,"text":"Created with","kind":"plain"},{"h":49.8,"p":245.86,"text":"TradingView","kind":"accent"}],
"arrow":[{"h":79.6,"p":318.5,"text":"▼","kind":"arrow"}],
"logo":[{"h":44.7,"p":245.88}]
},
"resolve":{"scale":{"x":"independent","y":"independent"},"axis":{"x":"independent","y":"independent"}},
"layer":[
{"data":{"name":"vp"},"mark":{"type":"bar","orient":"horizontal","size":3.3,"color":"#f9a9a6"},"encoding":{"y":{"field":"p","type":"quantitative","scale":{"domain":[263.69,316.96],"range":[515,43],"nice":false,"zero":false,"padding":0},"axis":null},"x":{"field":"len","type":"quantitative","scale":{"domain":[0,1105],"range":[8,1113],"nice":false,"zero":false},"axis":null}}},
{"data":{"name":"bars"},"mark":{"type":"bar","orient":"vertical","size":2.7},"encoding":{"x":{"field":"h","type":"quantitative","scale":{"domain":[11.43,429.7],"range":[6,1106],"nice":false,"zero":false,"padding":0},"axis":null},"y":{"field":"v","type":"quantitative","stack":null,"scale":{"domain":[0,117],"range":[515,398],"nice":false,"zero":false},"axis":null},"fill":{"condition":{"test":"datum.c>=datum.o","value":"#92d2c8"},"value":"#f8a8a5"}}},
{"encoding":{"x":{"field":"h","type":"quantitative","scale":{"domain":[11.43,429.7],"range":[6,1106],"nice":false,"zero":false,"padding":0},"axis":null},"y":{"field":"p","type":"quantitative","scale":{"domain":[263.69,316.96],"range":[515,43],"nice":false,"zero":false},"axis":null}},
"layer":[
{"data":{"name":"frame"},"mark":{"type":"rect","fill":"transparent","stroke":"#000","strokeWidth":1.2},"encoding":{"x2":{"field":"h2"},"y2":{"field":"p2"},"y":{"field":"p","type":"quantitative","scale":{"domain":[263.69,316.96],"range":[515,43],"nice":false,"zero":false},"axis":{"orient":"right","offset":-76,"values":[265,270,275,280,285,290,295,300,305,310,315],"format":".2f","title":null,"grid":false,"labelFont":"Open Sans","labelFontSize":15,"labelColor":"#666","labelPadding":7,"tickSize":4,"tickColor":"#000","domainColor":"#000","labelOverlap":false,"labelBound":false,"labelFlush":false}}}},
{"data":{"name":"bars"},"mark":{"type":"rule","color":"#6e6e6e","strokeWidth":1},"encoding":{"y":{"field":"lo","type":"quantitative","scale":{"domain":[263.69,316.96],"range":[515,43],"nice":false,"zero":false},"axis":null},"y2":{"field":"hi"}}},
{"data":{"name":"bars"},"mark":{"type":"bar","orient":"vertical","size":2.6,"stroke":"#000","strokeWidth":1},"encoding":{"y":{"field":"o","type":"quantitative","scale":{"domain":[263.69,316.96],"range":[515,43],"nice":false,"zero":false},"axis":null},"y2":{"field":"c"},"fill":{"condition":{"test":"datum.c>=datum.o","value":"#4f9a33"},"value":"#ff0000"}}},
{"data":{"name":"trend"},"mark":{"type":"line","color":"#000","strokeWidth":2.2},"encoding":{}},
{"data":{"name":"boxes"},"mark":{"type":"rect","fill":"#d0d0d0","fillOpacity":0.25,"stroke":"#222","strokeWidth":1},"encoding":{"x2":{"field":"h2"},"y2":{"field":"p2"}}},
{"data":{"name":"levels"},"mark":{"type":"rule","color":"#f44336","strokeWidth":3},"encoding":{"x2":{"field":"h2"}}},
{"data":{"name":"hlines"},"mark":{"type":"rule","color":"#000","strokeWidth":1.2},"encoding":{"x2":{"field":"h2"}}},
{"data":{"name":"vlines"},"mark":{"type":"rule","color":"#000","strokeWidth":1.2},"encoding":{"y2":{"field":"p2"}}},
{"data":{"name":"tags"},"mark":{"type":"rect"},"encoding":{"x2":{"field":"h2"},"y2":{"field":"p2"},"color":{"field":"kind","type":"nominal","legend":null,"scale":{"domain":["level","last","accent","plain","strong","value","arrow"],"range":["#f44336","#6ba84f","#3bb3e4","#333333","#111111","#b22222","#8b0000"]}}}},
{"data":{"name":"tags"},"mark":{"type":"text","color":"#fff","font":"Open Sans","fontSize":15,"fontWeight":"bold","align":"center","baseline":"middle"},"encoding":{"x":{"field":"tx","type":"quantitative","scale":{"domain":[11.43,429.7],"range":[6,1106],"nice":false,"zero":false,"padding":0},"axis":null},"y":{"field":"mid","type":"quantitative","scale":{"domain":[263.69,316.96],"range":[515,43],"nice":false,"zero":false},"axis":null},"text":{"field":"label"}}},
{"data":{"name":"notes"},"transform":[{"filter":"datum.kind!='strong'"}],"mark":{"type":"text","font":"Open Sans","fontSize":12.5,"align":"left","baseline":"middle"},"encoding":{"text":{"field":"text"},"color":{"field":"kind","type":"nominal","legend":null}}},
{"data":{"name":"notes"},"transform":[{"filter":"datum.kind=='strong'"}],"mark":{"type":"text","font":"Open Sans","fontSize":12,"fontWeight":"bold","align":"left","baseline":"middle"},"encoding":{"text":{"field":"text"},"color":{"field":"kind","type":"nominal","legend":null}}},
{"data":{"name":"arrow"},"mark":{"type":"text","font":"DejaVu Sans","fontSize":15,"align":"left","baseline":"middle"},"encoding":{"text":{"field":"text"},"color":{"field":"kind","type":"nominal","legend":null}}},
{"data":{"name":"logo"},"mark":{"type":"point","filled":true,"color":"#3bb3e4","opacity":1,"size":2304,"shape":"M-0.5,0.25 L-0.18,-0.22 Q-0.02,-0.32 0.1,-0.18 L0.22,-0.05 Q0.45,-0.05 0.5,0.15 Q0.5,0.3 0.35,0.3 L-0.42,0.3 Q-0.5,0.3 -0.5,0.25Z"},"encoding":{}},
{"data":{"name":"logo"},"mark":{"type":"point","filled":false,"color":"#ffffff","opacity":1,"strokeWidth":1.5,"size":2304,"shape":"M-0.42,0.22 L-0.15,-0.08 L0.08,0.17 L0.42,-0.13"},"encoding":{}}
]},
{"encoding":{"x":{"field":"h","type":"quantitative","scale":{"domain":[11.43,429.7],"range":[6,1106],"nice":false,"zero":false,"padding":0},"axis":{"orient":"bottom","offset":-73,"values":[24,72,120,168,216,264,312,360],"labelExpr":"{'24':'30','72':'Sep','120':'3','168':'5','216':'7','264':'9','312':'11','360':'13'}[datum.value]","title":null,"grid":false,"labelFont":"Open Sans","labelFontSize":15,"labelColor":"#666","labelPadding":6,"tickSize":4,"tickColor":"#000","domainColor":"#000","labelFontWeight":{"condition":{"test":"datum.value==72","value":"bold"},"value":"normal"}}},"y":{"field":"r","type":"quantitative","scale":{"domain":[13.53,82.2],"range":[618,515],"nice":false,"zero":false},"axis":{"orient":"right","offset":-76,"values":[40,80],"format":".2f","title":null,"grid":false,"labelFont":"Open Sans","labelFontSize":15,"labelColor":"#666","labelPadding":7,"tickSize":4,"tickColor":"#000","domainColor":"#000"}}},
"layer":[
{"data":{"name":"rsibands"},"mark":{"type":"rule","color":"#b8b8b8","strokeWidth":1,"strokeDash":[5,5]},"encoding":{"x2":{"field":"h2"}}},
{"data":{"name":"bars"},"mark":{"type":"line","color":"#333","strokeWidth":1},"encoding":{}}
]}
]}
